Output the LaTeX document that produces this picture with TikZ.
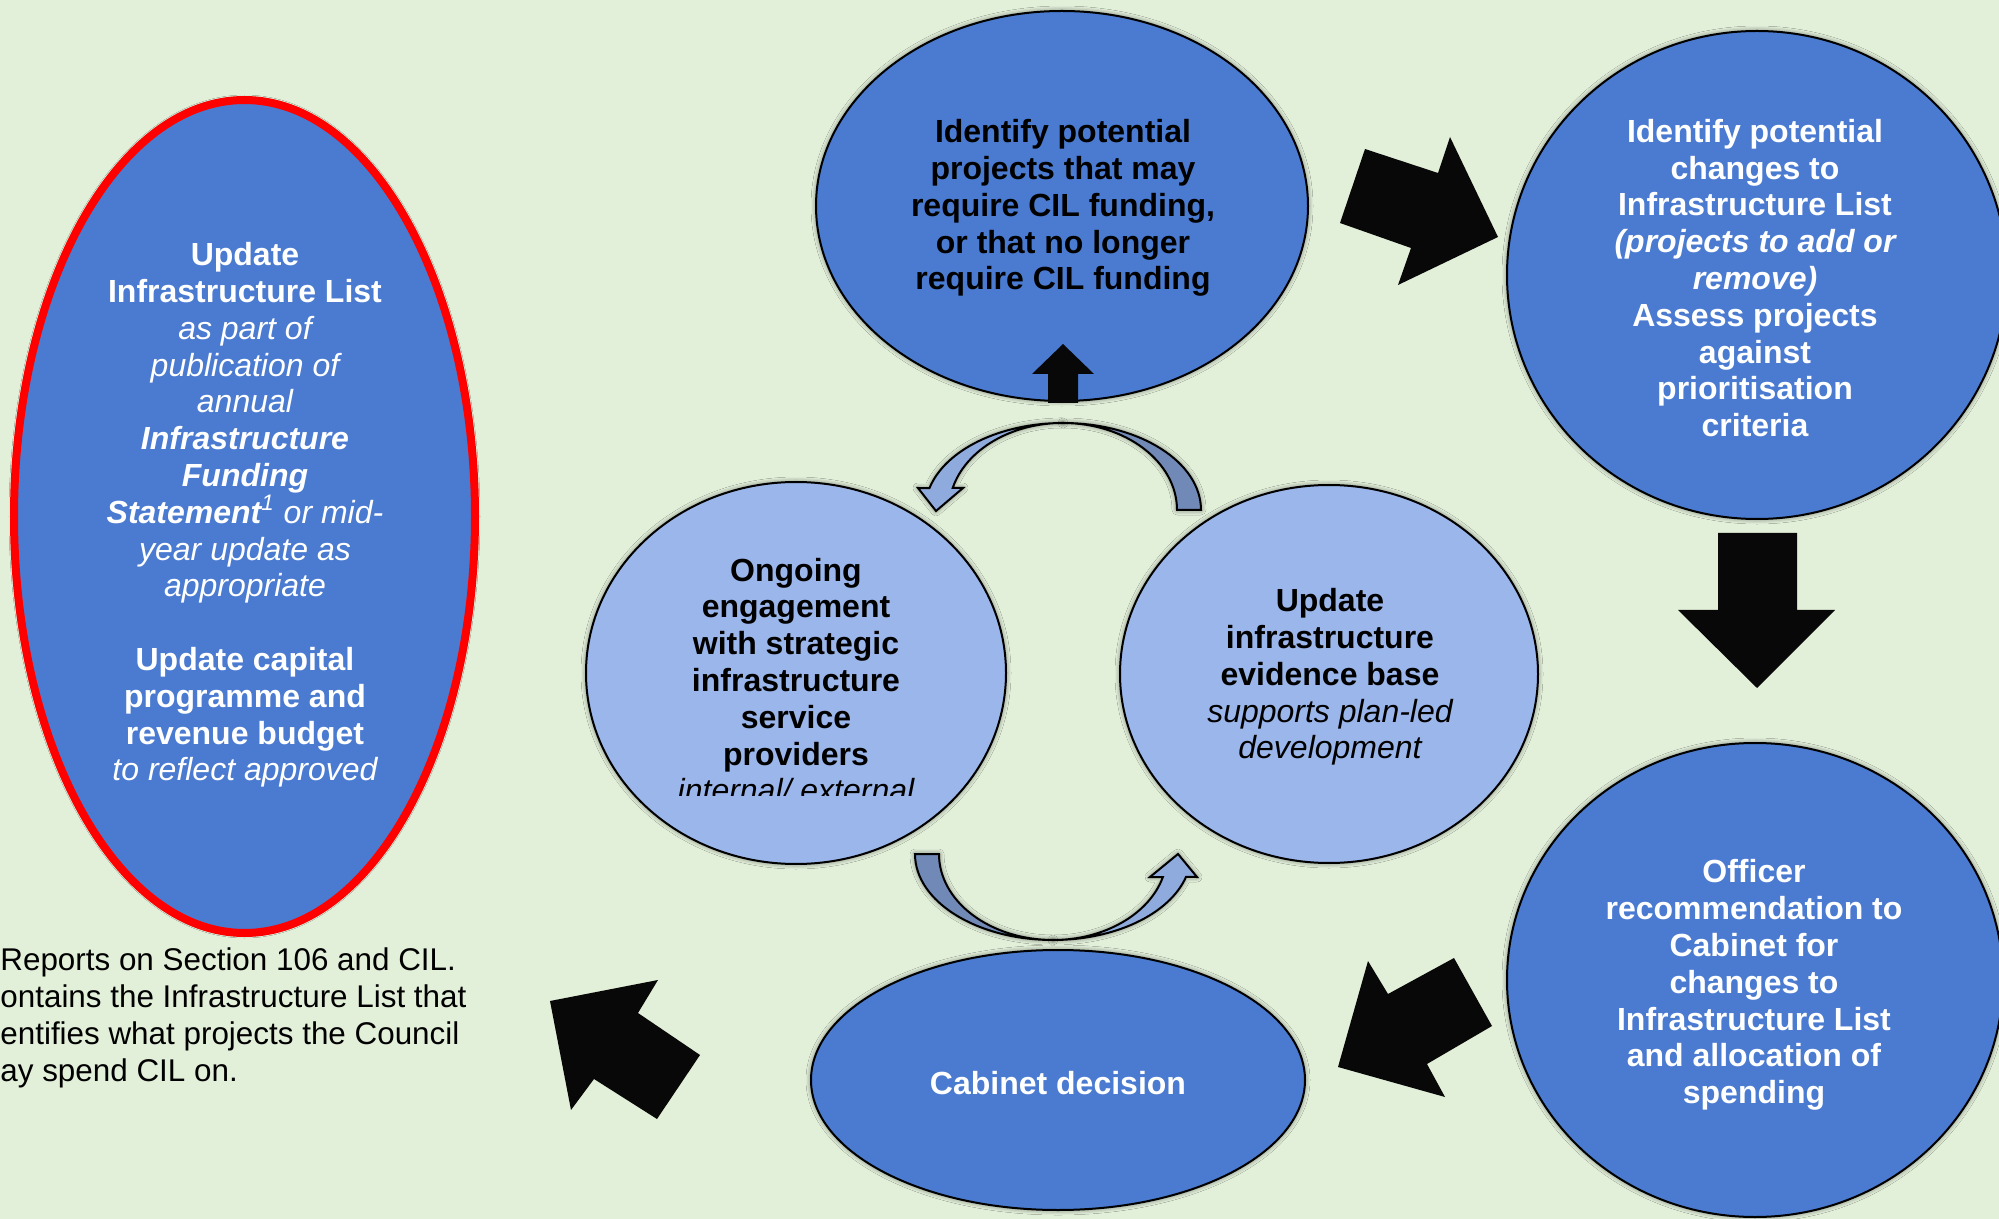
\documentclass[tikz,border=0pt]{standalone}
\usepackage{fontspec}
\setmainfont{Liberation Sans}
\usetikzlibrary{shapes.geometric,shadows.blur}
\definecolor{bg}{HTML}{E2EFD9}
\definecolor{dblue}{HTML}{4A7BD1}
\definecolor{lblue}{HTML}{9BB6EA}
\definecolor{arrlight}{HTML}{8FAADC}
\definecolor{arrdark}{HTML}{7189B6}
\definecolor{ringred}{HTML}{FF0000}
\newcommand\lineit[1]{{\mdseries\itshape #1}}
\newcommand\linebi[1]{{\bfseries\itshape #1}}
\begin{document}
\begin{tikzpicture}[x=0.5pt,y=-0.5pt,
  halo/.style={blur shadow={shadow xshift=0pt,shadow yshift=0pt,shadow scale=1,shadow blur radius=2.5pt,shadow opacity=55,shadow blur steps=5}},
  oval/.style={ellipse,draw=black,line width=1pt,inner sep=0pt,halo},
  darkoval/.style={oval,fill=dblue},
  lightoval/.style={oval,fill=lblue},
  txt/.style={align=center,inner sep=0pt,font=\fontsize{16}{18.4}\selectfont\bfseries},
  wtxt/.style={txt,text=white},
  blockarrow/.style={fill=black!97!white},
  curvedband/.style={draw=black,line width=1pt,line join=miter,halo}
]
\clip (0,0) rectangle (1999,1219);
\fill[bg] (0,0) rectangle (1999,1219);

% ovals
\node[darkoval,draw=ringred,line width=4pt,minimum width=230.5pt,minimum height=416.5pt] (update) at (244.5,516.5) {};
\node[darkoval,minimum width=246pt,minimum height=195pt] (identify) at (1062,206) {};
\node[darkoval,minimum width=250pt,minimum height=244pt] (changes) at (1757,275) {};
\node[darkoval,minimum width=248pt,minimum height=237pt] (officer) at (1755,980) {};
\node[darkoval,minimum width=247pt,minimum height=130pt] (cabinet) at (1058,1080) {};
\node[lightoval,minimum width=210pt,minimum height=191pt] (ongoing) at (796,673) {};
\node[lightoval,minimum width=209pt,minimum height=189pt] (evidence) at (1329,674) {};

% texts
\node[wtxt] (updateT) at (245,515) {Update\\Infrastructure List\\\lineit{as part of}\\\lineit{publication of}\\\lineit{annual}\\\linebi{Infrastructure}\\\linebi{Funding}\\\linebi{Statement}\lineit{\textsuperscript{1} or mid-}\\\lineit{year update as}\\\lineit{appropriate}\\[18.4pt]Update capital\\programme and\\revenue budget\\\lineit{to reflect approved}};
\node[txt] (identifyT) at (1063,208) {Identify potential\\projects that may\\require CIL funding,\\or that no longer\\require CIL funding};
\node[wtxt] (changesT) at (1755,278) {Identify potential\\changes to\\Infrastructure List\\\linebi{(projects to add or}\\\linebi{remove)}\\Assess projects\\against\\prioritisation\\criteria};
\node[wtxt] (officerT) at (1754,985) {Officer\\recommendation to\\Cabinet for\\changes to\\Infrastructure List\\and allocation of\\spending};
\node[wtxt] (cabinetT) at (1058,1083) {Cabinet decision};
\node[txt] (evidenceT) at (1330,677) {Update\\infrastructure\\evidence base\\\lineit{supports plan-led}\\\lineit{development}};
\begin{scope}
  \clip (586,400) rectangle (1006,795);
  \node[txt] (ongoingT) at (796,680) {Ongoing\\engagement\\with strategic\\infrastructure\\service\\providers\\\lineit{internal/ external}};
\end{scope}
\node[font=\fontsize{15.7}{18.5}\selectfont,align=left,anchor=west,inner sep=0pt] (note) at (0,1018) {Reports on Section 106 and CIL.\\ontains the Infrastructure List that\\entifies what projects the Council\\ay spend CIL on.};

% curved arrows (top)
\path[curvedband,fill=arrdark] (1063,423) arc[start angle=270,end angle=360,x radius=138,y radius=87] -- (1177,510) arc[start angle=0,end angle=-90,x radius=114,y radius=87] -- cycle;
\path[curvedband,fill=arrlight] (1063,423) arc[start angle=270,end angle=194.6,x radius=138,y radius=87] -- (918,488) -- (936,511) -- (963,488) -- (952.7,488) arc[start angle=194.6,end angle=270,x radius=114,y radius=87] -- cycle;
% curved arrows (bottom)
\path[curvedband,fill=arrdark] (915,854) arc[start angle=180,end angle=90,x radius=138,y radius=86] arc[start angle=90,end angle=180,x radius=114,y radius=86] -- cycle;
\path[curvedband,fill=arrlight] (1053,940) arc[start angle=90,end angle=15.5,x radius=138,y radius=86] -- (1197,877) -- (1178,854) -- (1150,877) -- (1162.9,877) arc[start angle=15.5,end angle=90,x radius=114,y radius=86] -- cycle;

% black block arrows
\fill[blockarrow] (1063,344) -- (1094,374) -- (1078,374) -- (1078,403) -- (1048,403) -- (1048,374) -- (1032,374) -- cycle;
\fill[blockarrow] (1365,149) -- (1438,173) -- (1450,137) -- (1498,237) -- (1398,285) -- (1411,248) -- (1340,223) -- cycle;
\fill[blockarrow] (1718,533) -- (1797,533) -- (1797,610) -- (1835,610) -- (1757,688) -- (1678,610) -- (1718,610) -- cycle;
\fill[blockarrow] (1368,961) -- (1388,994) -- (1454,958) -- (1492,1026) -- (1427,1064) -- (1445,1097) -- (1338,1067) -- cycle;
\fill[blockarrow] (550,1001) -- (658,980) -- (638,1013) -- (700,1055) -- (657,1119) -- (594,1079) -- (571,1110) -- cycle;
\end{tikzpicture}
\end{document}
